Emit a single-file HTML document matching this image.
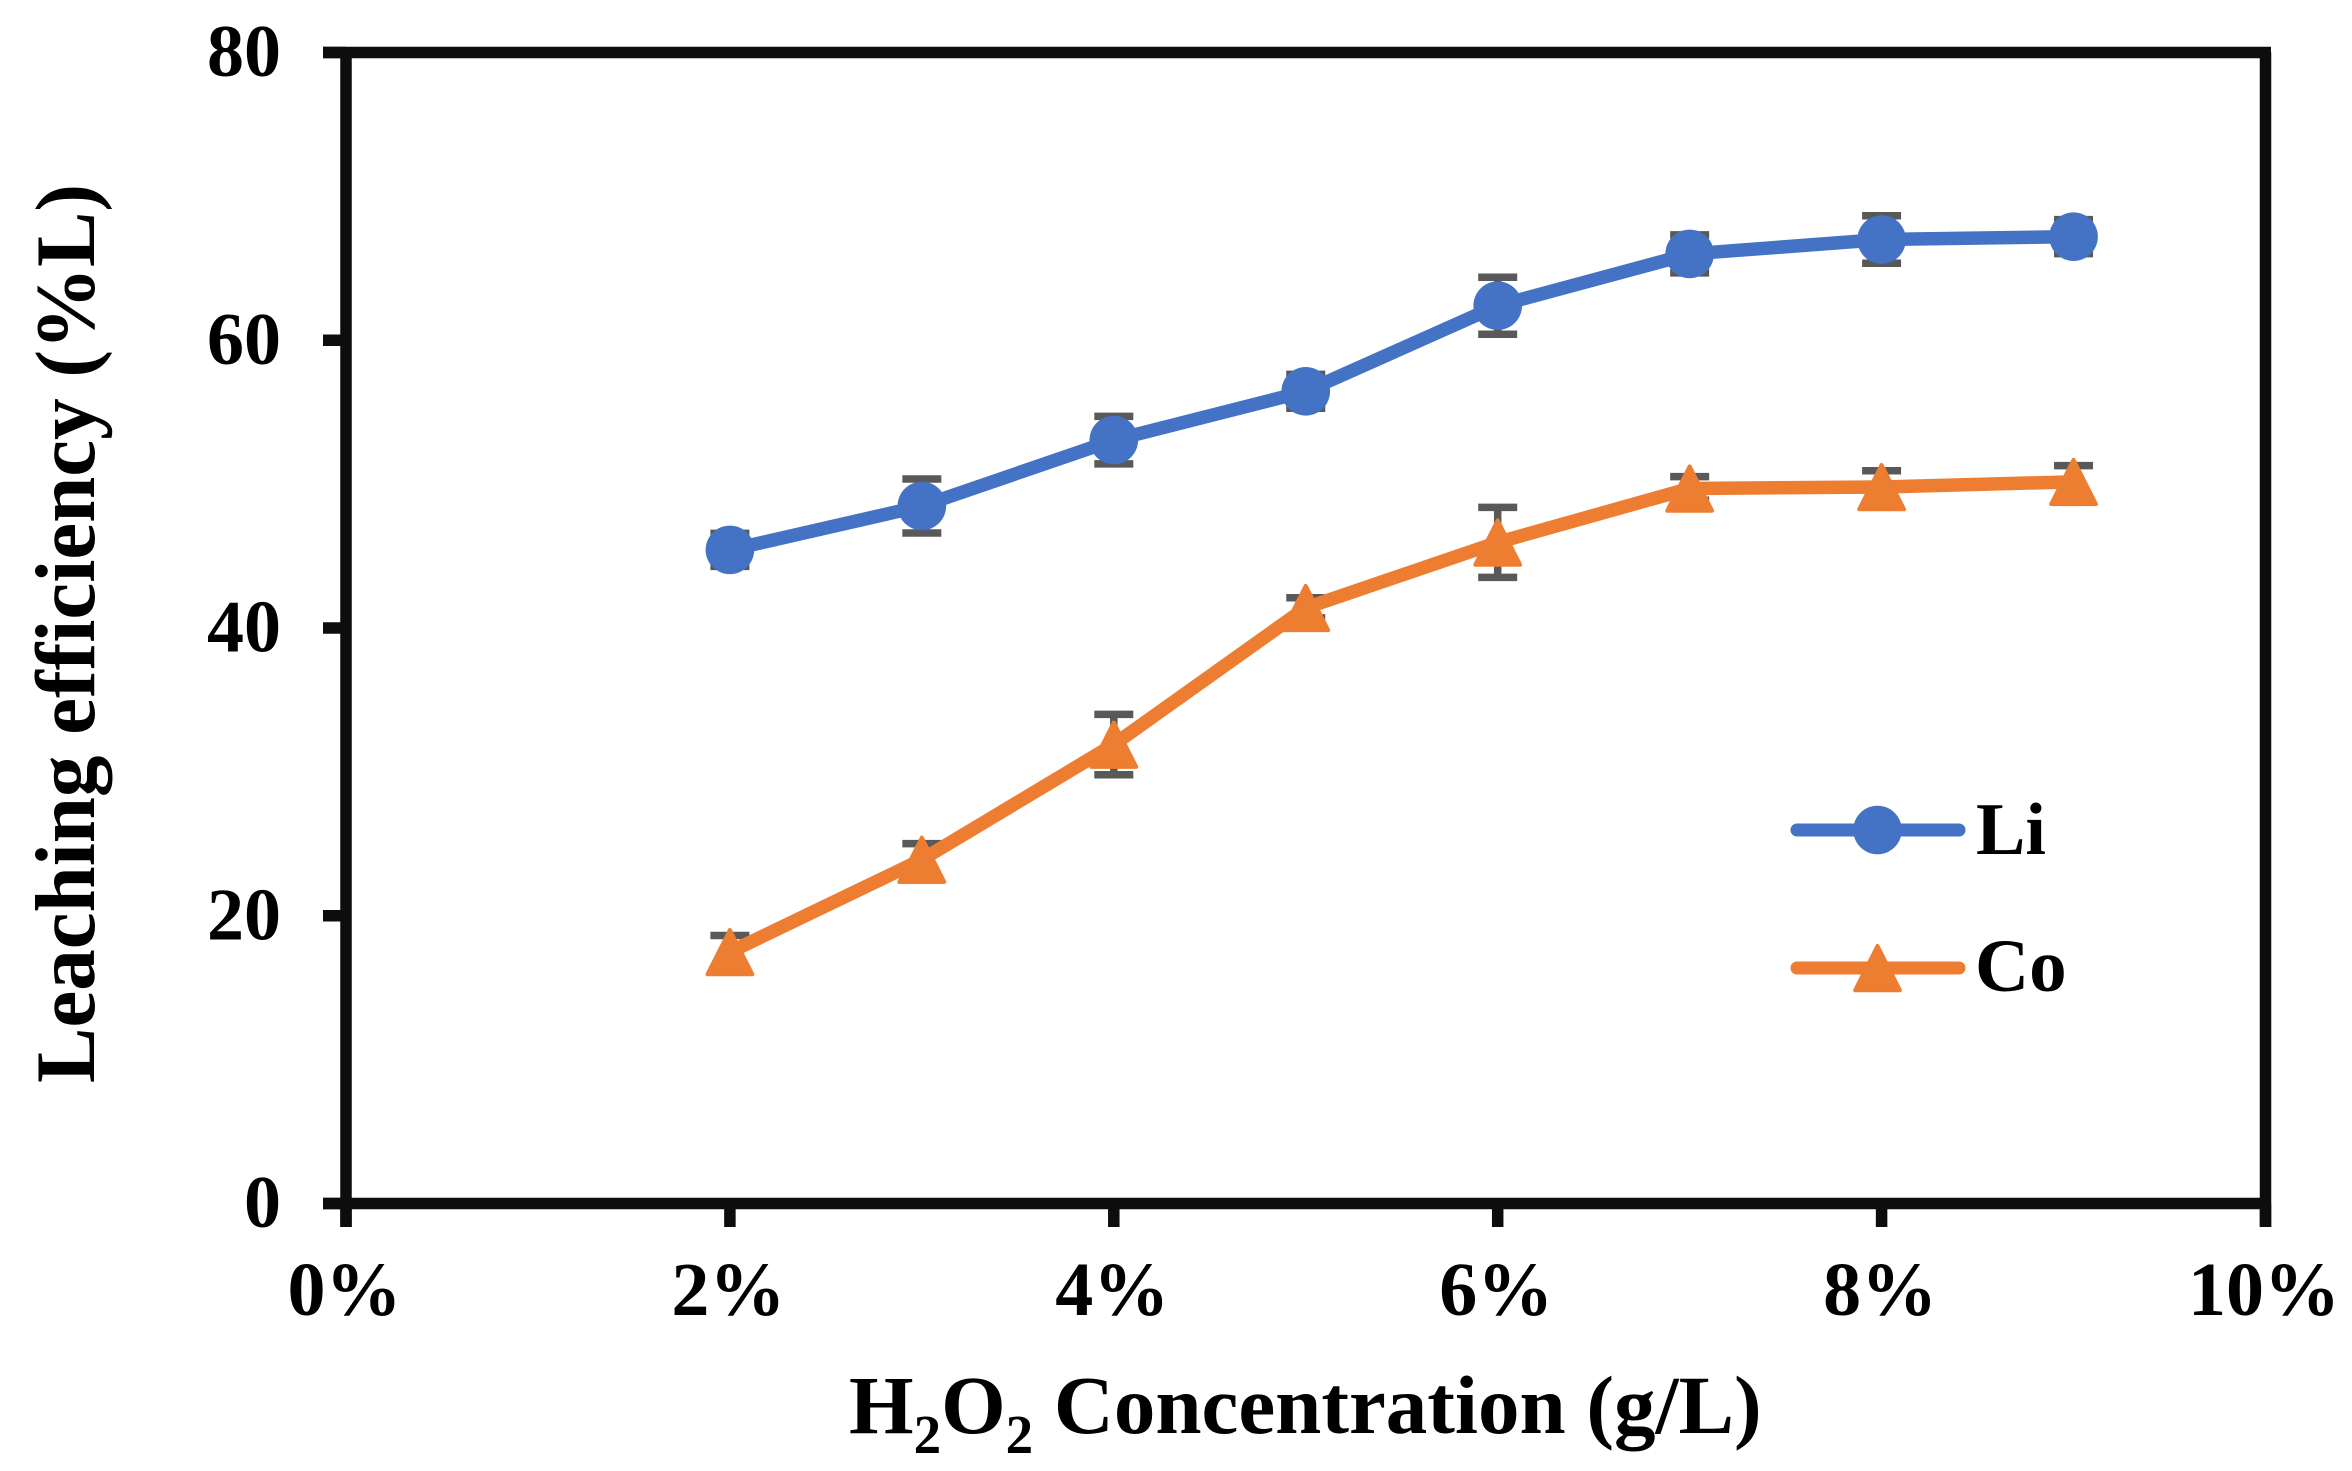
<!DOCTYPE html>
<html lang="en">
<head>
<meta charset="utf-8">
<title>Leaching efficiency vs H2O2 concentration</title>
<style>
html,body{margin:0;padding:0;background:#fff;}
svg{display:block;}
text{font-family:"Liberation Serif",serif;font-weight:bold;fill:#000;}
</style>
</head>
<body>
<svg id="chart" xmlns="http://www.w3.org/2000/svg" width="2352" height="1471" viewBox="0 0 2352 1471"></svg>
<script>
const xCategories = [2, 3, 4, 5, 6, 7, 8, 9];
const liValues = [45.43, 48.48, 53.06, 56.45, 62.4, 66.0, 67.0, 67.2];
const coValues = [17.48, 23.9, 31.9, 41.4, 45.95, 49.7, 49.8, 50.16];
const liErrors = [1.15, 1.88, 1.65, 1.18, 1.98, 1.32, 1.65, 1.18];
const coErrors = [1.15, 1.11, 2.1, 0.7, 2.43, 0.82, 1.13, 1.13];
const xTicks = [0, 2, 4, 6, 8, 10];
const xTickLabels = ['0%', '2%', '4%', '6%', '8%', '10%'];
const yTicks = [0, 20, 40, 60, 80];
const yTickLabels = ['0', '20', '40', '60', '80'];

const svgNS = 'http://www.w3.org/2000/svg';
const svg = document.getElementById('chart');
const plot = {left: 346, right: 2265.5, top: 52.5, bottom: 1203.5};
const xMax = 10;
const yMax = 80;
const AXIS = '#0d0d0d';
const ERR = '#595959';
const LI = '#4472C4';
const CO = '#ED7D31';

function xScale(v) { return plot.left + (v / xMax) * (plot.right - plot.left); }
function yScale(v) { return plot.bottom - (v / yMax) * (plot.bottom - plot.top); }

function make(tag, parent) {
  const el = document.createElementNS(svgNS, tag);
  parent.appendChild(el);
  return el;
}
function setLine(el, x1, y1, x2, y2, color, width, cap) {
  el.setAttribute('x1', x1);
  el.setAttribute('y1', y1);
  el.setAttribute('x2', x2);
  el.setAttribute('y2', y2);
  el.setAttribute('stroke', color);
  el.setAttribute('stroke-width', width);
  el.setAttribute('stroke-linecap', cap || 'butt');
}
function setText(el, x, y, size, anchor, str) {
  el.setAttribute('x', x);
  el.setAttribute('y', y);
  el.setAttribute('font-size', size);
  el.setAttribute('text-anchor', anchor);
  el.textContent = str;
}
function trianglePoints(cx, cy) {
  return (cx) + ',' + (cy - 22) + ' ' + (cx + 22.4) + ',' + (cy + 22.3) + ' ' + (cx - 22.4) + ',' + (cy + 22.3);
}

/* error bars */
function drawErrors(vals, errs, prefix) {
  const g = make('g', svg);
  
  
  xCategories.forEach(function (c, i) {
    const cx = xScale(c);
    const hi = yScale(vals[i] + errs[i]);
    const lo = yScale(vals[i] - errs[i]);
    const stem = make('line', g);
    setLine(stem, cx, hi, cx, lo, ERR, 7.5);
    
    
    const capHi = make('line', g);
    setLine(capHi, cx - 19.5, hi, cx + 19.5, hi, ERR, 7.5);
    
    
    const capLo = make('line', g);
    setLine(capLo, cx - 19.5, lo, cx + 19.5, lo, ERR, 7.5);
    
    
  });
}
drawErrors(liValues, liErrors, 'li');
drawErrors(coValues, coErrors, 'co');

/* series lines and markers */
function drawLine(vals, color, name) {
  const p = make('polyline', svg);
  p.setAttribute('points', xCategories.map(function (c, i) { return xScale(c) + ',' + yScale(vals[i]); }).join(' '));
  p.setAttribute('fill', 'none');
  p.setAttribute('stroke', color);
  p.setAttribute('stroke-width', 13.5);
  p.setAttribute('stroke-linejoin', 'round');
  p.setAttribute('stroke-linecap', 'round');
  
  
}
drawLine(liValues, LI, 'li-series-line');
drawLine(coValues, CO, 'co-series-line');

xCategories.forEach(function (c, i) {
  const m = make('circle', svg);
  m.setAttribute('cx', xScale(c));
  m.setAttribute('cy', yScale(liValues[i]));
  m.setAttribute('r', 24.3);
  m.setAttribute('fill', LI);
  
  
});
xCategories.forEach(function (c, i) {
  const m = make('polygon', svg);
  m.setAttribute('points', trianglePoints(xScale(c), yScale(coValues[i])));
  m.setAttribute('fill', CO);
  m.setAttribute('stroke', CO);
  m.setAttribute('stroke-width', 4);
  m.setAttribute('stroke-linejoin', 'round');
  
  
});

/* frame and ticks */
const axisGroup = make('g', svg);


const topAxis = make('line', axisGroup);
setLine(topAxis, 323, plot.top, 2271, plot.top, AXIS, 11.5);


const bottomAxis = make('line', axisGroup);
setLine(bottomAxis, 323, plot.bottom, 2271, plot.bottom, AXIS, 11.5);


const leftAxis = make('line', axisGroup);
setLine(leftAxis, plot.left, plot.top, plot.left, 1227, AXIS, 11.5);


const rightAxis = make('line', axisGroup);
setLine(rightAxis, plot.right, plot.top, plot.right, 1227, AXIS, 11.5);



yTicks.forEach(function (v, i) {
  const y = yScale(v);
  const t = make('line', axisGroup);
  setLine(t, 323, y, plot.left, y, AXIS, 11.5);
  
  
  const l = make('text', svg);
  setText(l, 281, y + 23.5, 74, 'end', yTickLabels[i]);
  
  
});
xTicks.forEach(function (v, i) {
  const x = xScale(v);
  const t = make('line', axisGroup);
  setLine(t, x, plot.bottom, x, 1227, AXIS, 11.5);
  
  
  const l = make('text', svg);
  setText(l, x - 1.5, 1315, 76, 'middle', xTickLabels[i]);
  
  
});

/* axis titles */
const xTitle = make('text', svg);
xTitle.setAttribute('x', 849);
xTitle.setAttribute('y', 1433);
xTitle.setAttribute('font-size', 83);


[['H', 0, 83], ['2', 20, 55], ['O', -20, 83], ['2', 20, 55], [' Concentration (g/L)', -20, 83]].forEach(function (part) {
  const s = make('tspan', xTitle);
  s.setAttribute('dy', part[1]);
  s.setAttribute('font-size', part[2]);
  s.textContent = part[0];
});

const yTitle = make('text', svg);
setText(yTitle, 0, 0, 85, 'middle', 'Leaching efficiency (%L)');
yTitle.setAttribute('textLength', '899');
yTitle.setAttribute('lengthAdjust', 'spacingAndGlyphs');
yTitle.setAttribute('transform', 'translate(94 633.5) rotate(-90)');



/* legend */
const legendLi = make('g', svg);


const liKey = make('line', legendLi);
setLine(liKey, 1797, 830, 1959, 830, LI, 13, 'round');


const liDot = make('circle', legendLi);
liDot.setAttribute('cx', 1877.5);
liDot.setAttribute('cy', 830);
liDot.setAttribute('r', 24.3);
liDot.setAttribute('fill', LI);


const liLabel = make('text', legendLi);
setText(liLabel, 1976, 854, 74, 'start', 'Li');



const legendCo = make('g', svg);


const coKey = make('line', legendCo);
setLine(coKey, 1797, 968, 1959, 968, CO, 13, 'round');


const coTri = make('polygon', legendCo);
coTri.setAttribute('points', trianglePoints(1877.5, 968));
coTri.setAttribute('fill', CO);
coTri.setAttribute('stroke', CO);
coTri.setAttribute('stroke-width', 4);
coTri.setAttribute('stroke-linejoin', 'round');


const coLabel = make('text', legendCo);
setText(coLabel, 1975, 991, 75, 'start', 'Co');


</script>
</body>
</html>
